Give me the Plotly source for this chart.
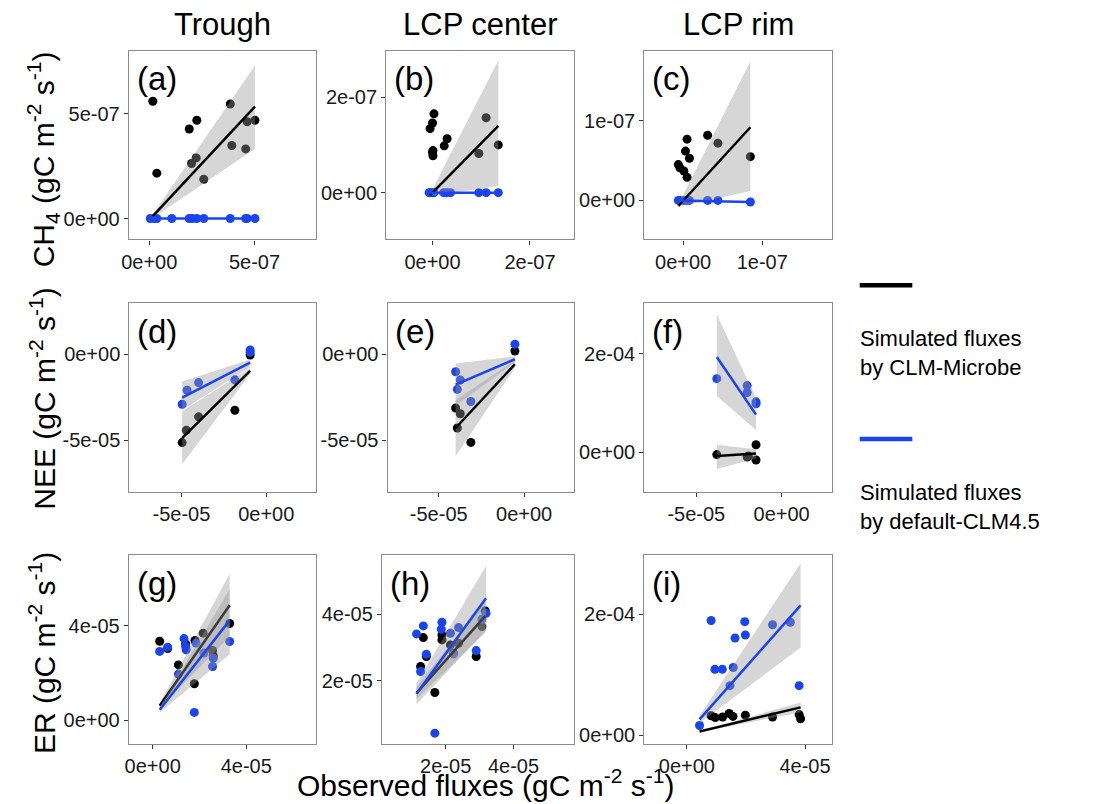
import plotly.graph_objects as go

# ---------------- text ----------------
col_titles = ["Trough", "LCP center", "LCP rim"]
row_titles = ["CH<sub>4</sub> (gC m<sup>-2</sup> s<sup>-1</sup>)",
              "NEE (gC m<sup>-2</sup> s<sup>-1</sup>)",
              "ER (gC m<sup>-2</sup> s<sup>-1</sup>)"]
x_title = "Observed fluxes (gC m<sup>-2</sup> s<sup>-1</sup>)"
panel_labels = ["(a)", "(b)", "(c)", "(d)", "(e)", "(f)", "(g)", "(h)", "(i)"]
legend_labels = ["Simulated fluxes<br>by CLM-Microbe", "Simulated fluxes<br>by default-CLM4.5"]

# ---------------- data (x: observed, y: simulated), values in panel units ----------------
# (a) CH4 Trough, unit 1e-7
a_mic_x = [0.17, 0.36, 1.90, 2.01, 2.23, 2.26, 2.59, 3.85, 3.92, 4.58, 4.65, 5.02]
a_mic_y = [5.61, 2.17, 4.28, 2.63, 2.90, 4.70, 1.88, 5.48, 3.49, 3.33, 4.63, 4.70]
a_def_x = [0.05, 0.24, 0.36, 1.07, 1.90, 2.05, 2.26, 2.59, 3.85, 4.58, 4.65, 5.02]
a_def_y = [0.0, 0.0, 0.0, 0.0, 0.0, 0.0, 0.0, 0.0, 0.0, 0.0, 0.0, 0.0]
a_fit_mic = dict(x=[0.17, 5.02], y=[0.11, 5.35], lo=[0.02, 3.34], hi=[0.20, 7.32])
a_fit_def = dict(x=[0.05, 5.02], y=[0.0, 0.0], lo=[0.0, 0.0], hi=[0.0, 0.0])

# (b) CH4 LCP center, unit 1e-7
b_mic_x = [-0.05, 0.0, 0.0, 0.01, 0.01, 0.03, 0.24, 0.30, 0.95, 1.10, 1.35]
b_mic_y = [1.34, 1.46, 0.84, 0.88, 0.77, 1.65, 0.98, 1.13, 0.82, 1.57, 1.00]
b_def_x = [-0.07, -0.05, 0.0, 0.01, 0.03, 0.23, 0.29, 0.37, 0.95, 1.10, 1.35]
b_def_y = [0.0, 0.0, 0.0, 0.0, 0.0, 0.0, 0.0, 0.0, 0.0, 0.0, 0.0]
b_fit_mic = dict(x=[-0.05, 1.35], y=[-0.05, 1.40], lo=[-0.07, 0.14], hi=[-0.03, 2.77])
b_fit_def = dict(x=[-0.07, 1.35], y=[0.0, 0.0], lo=[0.0, 0.0], hi=[0.0, 0.0])

# (c) CH4 LCP rim, unit 1e-7
c_mic_x = [-0.06, -0.04, 0.01, 0.03, 0.05, 0.05, 0.08, 0.31, 0.44, 0.85]
c_mic_y = [0.45, 0.41, 0.37, 0.62, 0.77, 0.29, 0.53, 0.82, 0.72, 0.55]
c_def_x = [-0.06, -0.04, 0.01, 0.03, 0.05, 0.08, 0.31, 0.44, 0.85]
c_def_y = [0.0, 0.0, 0.0, 0.0, 0.0, 0.0, 0.0, 0.0, -0.02]
c_fit_mic = dict(x=[-0.06, 0.85], y=[-0.07, 0.92], lo=[-0.08, 0.12], hi=[-0.05, 1.75])
c_fit_def = dict(x=[-0.06, 0.85], y=[0.0, -0.02], lo=[0.0, -0.02], hi=[0.0, -0.02])

# (d) NEE Trough, unit 1e-5
d_mic_x = [-4.96, -4.71, -3.99, -1.85, -0.95]
d_mic_y = [-5.14, -4.42, -3.64, -3.26, -0.04]
d_def_x = [-4.96, -4.67, -3.99, -1.85, -0.95, -0.95]
d_def_y = [-2.91, -2.09, -1.65, -1.49, 0.25, 0.12]
d_fit_mic = dict(x=[-4.96, -0.95], y=[-4.88, -0.97], lo=[-6.40, -1.15], hi=[-3.31, -0.80])
d_fit_def = dict(x=[-4.96, -0.95], y=[-2.52, -0.48], lo=[-3.25, -0.76], hi=[-1.59, -0.30])

# (e) NEE LCP center, unit 1e-5
e_mic_x = [-4.01, -3.91, -3.74, -3.12, -0.54]
e_mic_y = [-3.13, -4.29, -3.46, -5.13, 0.19]
e_def_x = [-4.01, -3.91, -3.74, -3.12, -0.54]
e_def_y = [-1.02, -2.04, -1.50, -2.75, 0.58]
e_fit_mic = dict(x=[-4.01, -0.54], y=[-4.29, -0.58], lo=[-5.92, -0.80], hi=[-2.66, -0.36])
e_fit_def = dict(x=[-4.01, -0.54], y=[-1.77, -0.29], lo=[-3.00, -0.46], hi=[-0.54, -0.12])

# (f) NEE LCP rim, x unit 1e-5, y unit 1e-4
f_mic_x = [-3.80, -2.02, -1.95, -1.50, -1.50]
f_mic_y = [-0.05, -0.10, -0.08, 0.15, -0.16]
f_def_x = [-3.80, -2.02, -2.02, -1.50, -1.50]
f_def_y = [1.49, 1.35, 1.21, 1.02, 0.98]
f_fit_mic = dict(x=[-3.80, -1.50], y=[-0.08, -0.03], lo=[-0.34, -0.13], hi=[0.15, 0.06])
f_fit_def = dict(x=[-3.80, -1.50], y=[1.93, 0.76], lo=[1.14, 0.45], hi=[2.79, 1.10])

# (g) ER Trough, unit 1e-5
g_mic_x = [0.30, 0.64, 1.10, 1.41, 1.78, 1.81, 2.16, 2.56, 2.59, 3.29]
g_mic_y = [3.35, 3.04, 2.35, 3.24, 1.55, 3.38, 3.69, 2.96, 2.73, 4.10]
g_def_x = [0.30, 0.64, 1.10, 1.34, 1.41, 1.43, 1.78, 1.85, 2.19, 2.56, 2.59, 3.29]
g_def_y = [2.92, 3.10, 1.96, 3.46, 3.13, 2.99, 0.34, 3.27, 2.85, 2.28, 2.63, 3.34]
g_fit_mic = dict(x=[0.30, 3.29], y=[0.62, 4.87], lo=[0.52, 3.55], hi=[0.72, 6.20])
g_fit_def = dict(x=[0.30, 3.29], y=[0.45, 4.23], lo=[0.33, 2.80], hi=[0.57, 5.55])

# (h) ER LCP center, unit 1e-5
h_mic_x = [1.26, 1.34, 1.43, 1.68, 1.89, 1.89, 2.14, 2.23, 2.38, 2.90, 3.07, 3.17]
h_mic_y = [2.43, 3.30, 2.73, 1.65, 3.38, 3.23, 3.08, 2.83, 3.13, 2.73, 3.63, 4.10]
h_def_x = [1.14, 1.26, 1.34, 1.43, 1.68, 1.87, 1.89, 2.14, 2.23, 2.38, 2.90, 3.07, 3.19]
h_def_y = [3.41, 2.28, 3.65, 2.80, 0.43, 3.55, 3.76, 3.43, 2.81, 3.60, 2.91, 3.85, 4.03]
h_fit_mic = dict(x=[1.14, 3.17], y=[1.63, 3.95], lo=[1.45, 3.45], hi=[1.81, 4.45])
h_fit_def = dict(x=[1.14, 3.19], y=[1.61, 4.48], lo=[1.30, 3.51], hi=[1.93, 5.45])

# (i) ER LCP rim, x unit 1e-5, y unit 1e-4
i_mic_x = [0.82, 0.96, 1.21, 1.43, 1.56, 1.98, 2.90, 3.80, 3.85]
i_mic_y = [0.32, 0.29, 0.30, 0.36, 0.31, 0.33, 0.30, 0.34, 0.27]
i_def_x = [0.43, 0.82, 0.95, 1.20, 1.46, 1.57, 1.63, 1.96, 1.98, 2.90, 3.50, 3.80]
i_def_y = [0.16, 1.90, 1.09, 1.09, 0.82, 1.12, 1.61, 1.88, 1.66, 1.83, 1.87, 0.82]
i_fit_mic = dict(x=[0.43, 3.85], y=[0.06, 0.46], lo=[0.05, 0.38], hi=[0.07, 0.54])
i_fit_def = dict(x=[0.43, 3.85], y=[0.26, 2.15], lo=[0.20, 1.45], hi=[0.32, 2.85])

# tick labels
a_ticks = ([0, 5e-7], ["0e+00", "5e-07"])
b_ticks = ([0, 2e-7], ["0e+00", "2e-07"])
c_ticks = ([0, 1e-7], ["0e+00", "1e-07"])
nee_ticks = ([-5e-5, 0], ["-5e-05", "0e+00"])
f_yticks = ([0, 2e-4], ["0e+00", "2e-04"])
g_ticks = ([0, 4e-5], ["0e+00", "4e-05"])
h_ticks = ([2e-5, 4e-5], ["2e-05", "4e-05"])
i_xticks = ([0, 4e-5], ["0e+00", "4e-05"])
i_yticks = ([0, 2e-4], ["0e+00", "2e-04"])

# ---------------- layout geometry (pixels) ----------------
W, H = 1093, 804
BLACK = "#000000"
BLUE = "#1A44EE"
BAND = "rgba(153,153,153,0.4)"
FONT = "Liberation Sans, Arial, sans-serif"

panels = [
    dict(mic=(a_mic_x, a_mic_y), dfl=(a_def_x, a_def_y), fm=a_fit_mic, fd=a_fit_def, ux=1e-7, uy=1e-7,
         box=(121.7, 310.7, 51, 240), xr=(-0.97e-7, 7.94e-7), yr=(-1.0e-7, 8.02e-7), xt=a_ticks, yt=a_ticks),
    dict(mic=(b_mic_x, b_mic_y), dfl=(b_def_x, b_def_y), fm=b_fit_mic, fd=b_fit_def, ux=1e-7, uy=1e-7,
         box=(381, 570, 51, 240), xr=(-0.95e-7, 2.90e-7), yr=(-0.98e-7, 2.97e-7), xt=b_ticks, yt=b_ticks),
    dict(mic=(c_mic_x, c_mic_y), dfl=(c_def_x, c_def_y), fm=c_fit_mic, fd=c_fit_def, ux=1e-7, uy=1e-7,
         box=(641, 830, 51, 240), xr=(-0.49e-7, 1.88e-7), yr=(-0.49e-7, 1.88e-7), xt=c_ticks, yt=c_ticks),
    dict(mic=(d_mic_x, d_mic_y), dfl=(d_def_x, d_def_y), fm=d_fit_mic, fd=d_fit_def, ux=1e-5, uy=1e-5,
         box=(122.3, 310.7, 304, 493.3), xr=(-8.07e-5, 2.96e-5), yr=(-8.02e-5, 2.97e-5), xt=nee_ticks, yt=nee_ticks),
    dict(mic=(e_mic_x, e_mic_y), dfl=(e_def_x, e_def_y), fm=e_fit_mic, fd=e_fit_def, ux=1e-5, uy=1e-5,
         box=(382.3, 570, 304, 493.3), xr=(-8.0e-5, 2.91e-5), yr=(-8.02e-5, 2.97e-5), xt=nee_ticks, yt=nee_ticks),
    dict(mic=(f_mic_x, f_mic_y), dfl=(f_def_x, f_def_y), fm=f_fit_mic, fd=f_fit_def, ux=1e-5, uy=1e-4,
         box=(641, 830, 304, 493.3), xr=(-8.05e-5, 2.95e-5), yr=(-0.81e-4, 3.02e-4), xt=nee_ticks, yt=f_yticks),
    dict(mic=(g_mic_x, g_mic_y), dfl=(g_def_x, g_def_y), fm=g_fit_mic, fd=g_fit_def, ux=1e-5, uy=1e-5,
         box=(121.7, 310.7, 556.7, 746), xr=(-1.02e-5, 7.0e-5), yr=(-1.0e-5, 6.98e-5), xt=g_ticks, yt=g_ticks),
    dict(mic=(h_mic_x, h_mic_y), dfl=(h_def_x, h_def_y), fm=h_fit_mic, fd=h_fit_def, ux=1e-5, uy=1e-5,
         box=(376.7, 570, 556.7, 746), xr=(0.12e-5, 5.78e-5), yr=(0.10e-5, 5.77e-5), xt=h_ticks, yt=h_ticks),
    dict(mic=(i_mic_x, i_mic_y), dfl=(i_def_x, i_def_y), fm=i_fit_mic, fd=i_fit_def, ux=1e-5, uy=1e-4,
         box=(641, 830, 556.7, 746), xr=(-1.44e-5, 4.91e-5), yr=(-0.15e-4, 2.98e-4), xt=i_xticks, yt=i_yticks),
]

fig = go.Figure()
layout = dict(
    width=W, height=H, margin=dict(l=0, r=0, t=0, b=0),
    paper_bgcolor="white", plot_bgcolor="white", showlegend=False,
    font=dict(family=FONT, size=20, color="#1a1a1a"),
)
annotations = []
shapes = []


def scale(v, u):
    return [t * u for t in v]


def band_trace(fit, ux, uy, xa, ya):
    xs = [fit["x"][0], fit["x"][1], fit["x"][1], fit["x"][0], fit["x"][0]]
    ys = [fit["lo"][0], fit["lo"][1], fit["hi"][1], fit["hi"][0], fit["lo"][0]]
    return go.Scatter(x=scale(xs, ux), y=scale(ys, uy), mode="lines", fill="toself",
                      fillcolor=BAND, line=dict(width=0), hoverinfo="skip",
                      xaxis=xa, yaxis=ya, showlegend=False)


for k, p in enumerate(panels):
    idx = "" if k == 0 else str(k + 1)
    xa, ya = "x" + idx, "y" + idx
    ux, uy = p["ux"], p["uy"]
    x0, x1, y0, y1 = p["box"]
    axis_common = dict(showgrid=False, zeroline=False, showline=True, mirror=True,
                       linecolor="#8c8c8c", linewidth=1.2, ticks="outside", ticklen=4,
                       tickwidth=1, tickcolor="#333333",
                       tickfont=dict(family=FONT, size=20, color="#1a1a1a"))
    layout["xaxis" + idx] = dict(axis_common, domain=[x0 / W, x1 / W], range=list(p["xr"]),
                                 anchor=ya, tickvals=p["xt"][0], ticktext=p["xt"][1])
    layout["yaxis" + idx] = dict(axis_common, domain=[1 - y1 / H, 1 - y0 / H], range=list(p["yr"]),
                                 anchor=xa, tickvals=p["yt"][0], ticktext=p["yt"][1])

    mx, my = p["mic"]
    dx, dy = p["dfl"]
    fig.add_trace(go.Scatter(x=scale(mx, ux), y=scale(my, uy), mode="markers",
                             marker=dict(color=BLACK, size=9, line=dict(width=0)),
                             xaxis=xa, yaxis=ya, showlegend=False))
    fig.add_trace(go.Scatter(x=scale(dx, ux), y=scale(dy, uy), mode="markers",
                             marker=dict(color=BLUE, size=9, line=dict(width=0)),
                             xaxis=xa, yaxis=ya, showlegend=False))
    fm, fd = p["fm"], p["fd"]
    fig.add_trace(band_trace(fm, ux, uy, xa, ya))
    fig.add_trace(go.Scatter(x=scale(fm["x"], ux), y=scale(fm["y"], uy), mode="lines",
                             line=dict(color=BLACK, width=2.5), xaxis=xa, yaxis=ya, showlegend=False))
    fig.add_trace(band_trace(fd, ux, uy, xa, ya))
    fig.add_trace(go.Scatter(x=scale(fd["x"], ux), y=scale(fd["y"], uy), mode="lines",
                             line=dict(color=BLUE, width=2.5), xaxis=xa, yaxis=ya, showlegend=False))

    annotations.append(dict(text=panel_labels[k], xref="paper", yref="paper",
                            x=(x0 + 6) / W, y=1 - (y0 + 28) / H, xanchor="left", yanchor="middle",
                            showarrow=False, font=dict(family=FONT, size=33, color="black")))

# column titles
for cx, t in zip([216, 475.5, 735.5], col_titles):
    annotations.append(dict(text=t, xref="paper", yref="paper", x=cx / W, y=1 - 25 / H,
                            xanchor="center", yanchor="middle", showarrow=False,
                            font=dict(family=FONT, size=31, color="black")))
# row titles
for cy, t in zip([160, 400, 655], row_titles):
    annotations.append(dict(text=t, xref="paper", yref="paper", x=35 / W, y=1 - cy / H,
                            xanchor="center", yanchor="middle", textangle=-90, showarrow=False,
                            font=dict(family=FONT, size=30, color="black")))
# x title
annotations.append(dict(text=x_title, xref="paper", yref="paper", x=482 / W, y=1 - 785 / H,
                        xanchor="center", yanchor="middle", showarrow=False,
                        font=dict(family=FONT, size=30, color="black")))

# legend
for ly, ty, col, lab in [(286, 354, BLACK, legend_labels[0]), (440, 508, BLUE, legend_labels[1])]:
    shapes.append(dict(type="line", xref="paper", yref="paper", x0=858 / W, x1=911 / W,
                       y0=1 - ly / H, y1=1 - ly / H, line=dict(color=col, width=4.5)))
    annotations.append(dict(text=lab, xref="paper", yref="paper", x=856 / W, y=1 - ty / H,
                            xanchor="left", yanchor="middle", align="left", showarrow=False,
                            font=dict(family=FONT, size=22, color="black")))

layout["annotations"] = annotations
layout["shapes"] = shapes
fig.update_layout(**layout)
fig.write_html("out.html")
